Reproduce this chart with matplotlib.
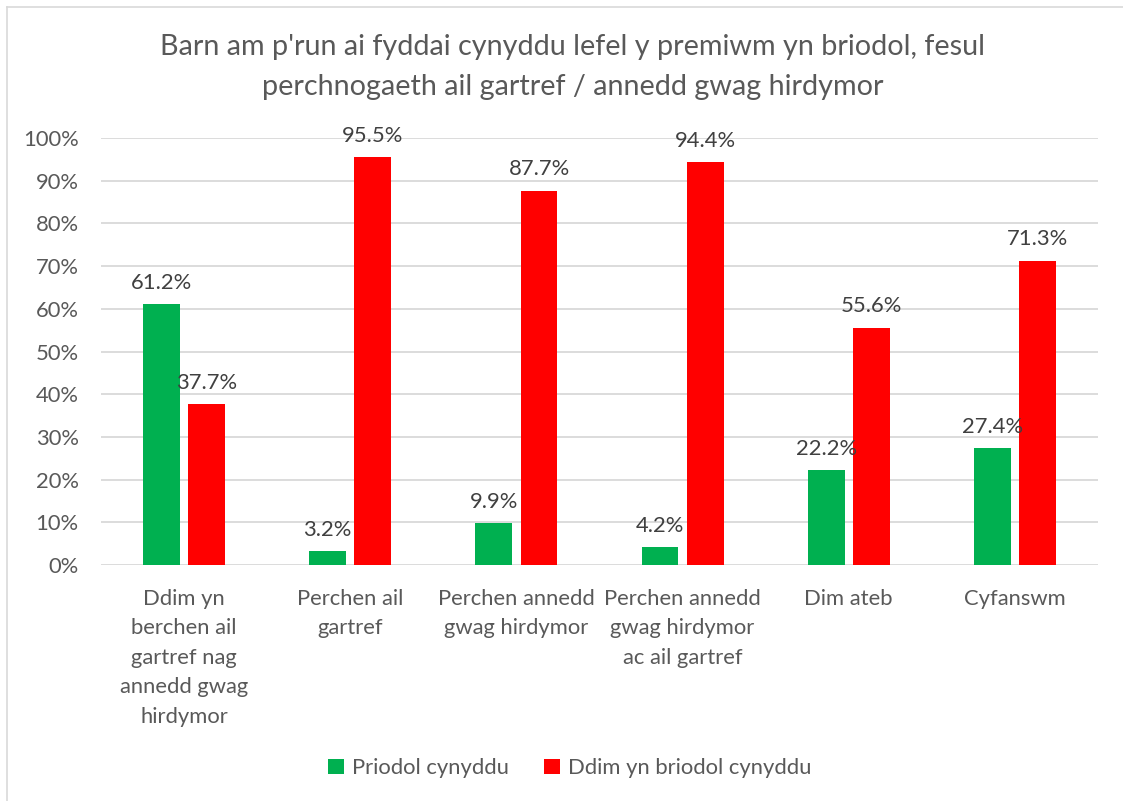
import matplotlib.pyplot as plt
import numpy as np
from matplotlib.lines import Line2D
from matplotlib.ticker import FuncFormatter

plt.rcParams['font.family'] = ['Lato', 'DejaVu Sans']

categories = ['Ddim yn\nberchen ail\ngartref nag\nannedd gwag\nhirdymor',
              'Perchen ail\ngartref',
              'Perchen annedd\ngwag hirdymor',
              'Perchen annedd\ngwag hirdymor\nac ail gartref',
              'Dim ateb',
              'Cyfanswm']
priodol = [61.2, 3.2, 9.9, 4.2, 22.2, 27.4]
ddim_priodol = [37.7, 95.5, 87.7, 94.4, 55.6, 71.3]
series_names = ['Priodol cynyddu', 'Ddim yn briodol cynyddu']
title = "Barn am p'run ai fyddai cynyddu lefel y premiwm yn briodol, fesul\nperchnogaeth ail gartref / annedd gwag hirdymor"

grey = '#595959'
green = '#00B050'
red = '#FF0000'
fs = 15.8

fig = plt.figure(figsize=(11.23, 8.01), dpi=100)
ax = fig.add_axes([101/1123, 1-565/801, 997/1123, 427/801])

x = np.arange(len(categories))
w = 0.222
off = 0.136
b1 = ax.bar(x - off, priodol, w, color=green, label=series_names[0], zorder=3)
b2 = ax.bar(x + off, ddim_priodol, w, color=red, label=series_names[1], zorder=3)

for bars, vals in ((b1, priodol), (b2, ddim_priodol)):
    for rect, v in zip(bars, vals):
        ax.annotate('{:.1f}%'.format(v), (rect.get_x() + rect.get_width()/2, v),
                    xytext=(0, 8), textcoords='offset points', ha='center', va='bottom',
                    fontsize=fs, color='#404040')

ax.set_xlim(-0.5, len(categories) - 0.5)
ax.set_ylim(0, 100)
ax.set_yticks(np.arange(0, 101, 10))
ax.yaxis.set_major_formatter(FuncFormatter(lambda v, p: '{:.0f}%'.format(v)))
ax.set_xticks(x)
ax.set_xticklabels(categories, linespacing=1.6, va='top')
ax.tick_params(axis='both', length=0, labelsize=fs, labelcolor=grey)
ax.tick_params(axis='y', pad=16)
ax.tick_params(axis='x', pad=17)
ax.yaxis.grid(color='#D9D9D9', linewidth=1.3, zorder=0)
ax.set_axisbelow(True)
for s in ax.spines.values():
    s.set_visible(False)

fig.text(573/1123, 1-67/801, title, ha='center', va='center', fontsize=20.7,
         color=grey, linespacing=1.62)

fig.legend(loc='center', bbox_to_anchor=(570/1123, 1-768/801), ncol=2, frameon=False,
           fontsize=fs, labelcolor=grey, handlelength=0.7, handleheight=0.7,
           handletextpad=0.4, columnspacing=1.6)

# chart border (top and left only visible)
fig.add_artist(Line2D([7/1123, 1], [1-7/801, 1-7/801], color='#D9D9D9', linewidth=1.2))
fig.add_artist(Line2D([7/1123, 7/1123], [0, 1-7/801], color='#D9D9D9', linewidth=1.2))

fig.savefig('out.png', dpi=100, facecolor='white')
